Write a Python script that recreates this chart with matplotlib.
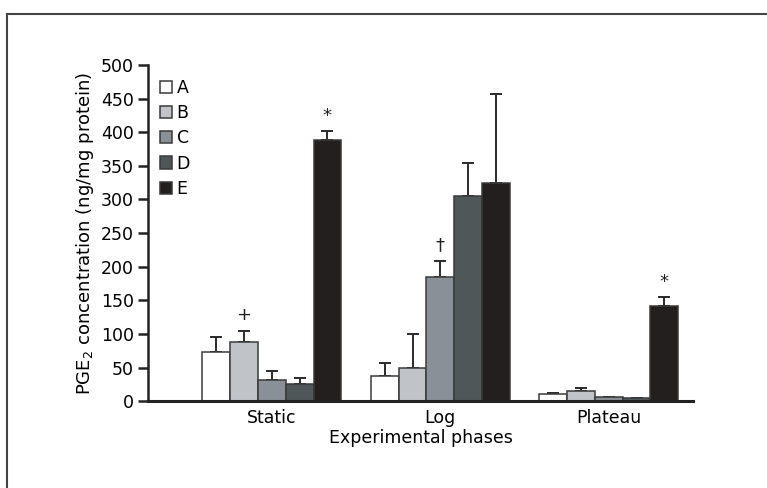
import matplotlib
matplotlib.use("Agg")
import matplotlib.pyplot as plt
import numpy as np
from matplotlib.lines import Line2D

plt.rcParams['font.family'] = ['DejaVu Sans']

phases = ["Static", "Log", "Plateau"]
groups = ["A", "B", "C", "D", "E"]
means = {
    "A": [73, 37, 10],
    "B": [88, 50, 15],
    "C": [32, 184, 5.5],
    "D": [25, 305, 4],
    "E": [388, 325, 142],
}
errors = {
    "A": [23, 19, 1.5],
    "B": [17, 50, 4],
    "C": [13, 25, 1],
    "D": [9, 49, 1],
    "E": [14, 131, 13],
}
# significance marks: (phase index, group, symbol)
marks = [(0, "B", "+"), (0, "E", "*"), (1, "C", "\u2020"), (2, "E", "*")]

colors = {"A": "#ffffff", "B": "#c0c4c9", "C": "#8a9097",
          "D": "#4f5759", "E": "#231f1f"}

fig = plt.figure(figsize=(7.67, 4.88), dpi=100)
ax = fig.add_axes([0.193, 0.178, 0.7105, 0.689])

x = np.arange(len(phases))
width = 0.165
for i, g in enumerate(groups):
    pos = x + (i - 2) * width
    ax.bar(pos, means[g], width, color=colors[g], edgecolor="#3a3a3a",
           linewidth=1.1, label=g, zorder=2)
    ax.errorbar(pos, means[g], yerr=[np.zeros(3), errors[g]], fmt="none",
                ecolor="#2a2a2a", elinewidth=1.4, capsize=4.3, capthick=1.4,
                zorder=1)

for pi, g, sym in marks:
    gi = groups.index(g)
    xp = pi + (gi - 2) * width
    top = means[g][pi] + errors[g][pi]
    ax.text(xp, top + 9, sym, ha="center", va="bottom", fontsize=13,
            color="#222222")

ax.set_xlim(-0.735, 2.5)
ax.set_ylim(0, 500)
ax.set_yticks(np.arange(0, 501, 50))
ax.set_xticks(x)
ax.set_xticklabels(phases)
ax.tick_params(axis="x", length=0, labelsize=12.5, pad=6)
ax.tick_params(axis="y", length=7, width=1.8, labelsize=12.5, direction="out",
               color="#222222", pad=3)
for side in ("top", "right"):
    ax.spines[side].set_visible(False)
ax.spines["left"].set_linewidth(1.8)
ax.spines["bottom"].set_linewidth(2.2)
ax.spines["left"].set_color("#222222")
ax.spines["bottom"].set_color("#222222")

ax.set_ylabel("PGE$_2$ concentration (ng/mg protein)", fontsize=13,
              labelpad=4)
ax.set_xlabel("Experimental phases", fontsize=12.5, labelpad=1)

leg = ax.legend(loc="upper left", bbox_to_anchor=(0.0, 0.995), frameon=False,
                fontsize=12.5, handlelength=0.7, handleheight=0.7,
                handletextpad=0.25, labelspacing=0.42, borderaxespad=0.3)

# figure border (top and left edges)
fig.add_artist(Line2D([7 / 767, 1.0], [1 - 14 / 488, 1 - 14 / 488],
                      transform=fig.transFigure, color="#444444", lw=1.5))
fig.add_artist(Line2D([7 / 767, 7 / 767], [0.0, 1 - 14 / 488],
                      transform=fig.transFigure, color="#444444", lw=1.5))

fig.savefig("out.png", dpi=100)
